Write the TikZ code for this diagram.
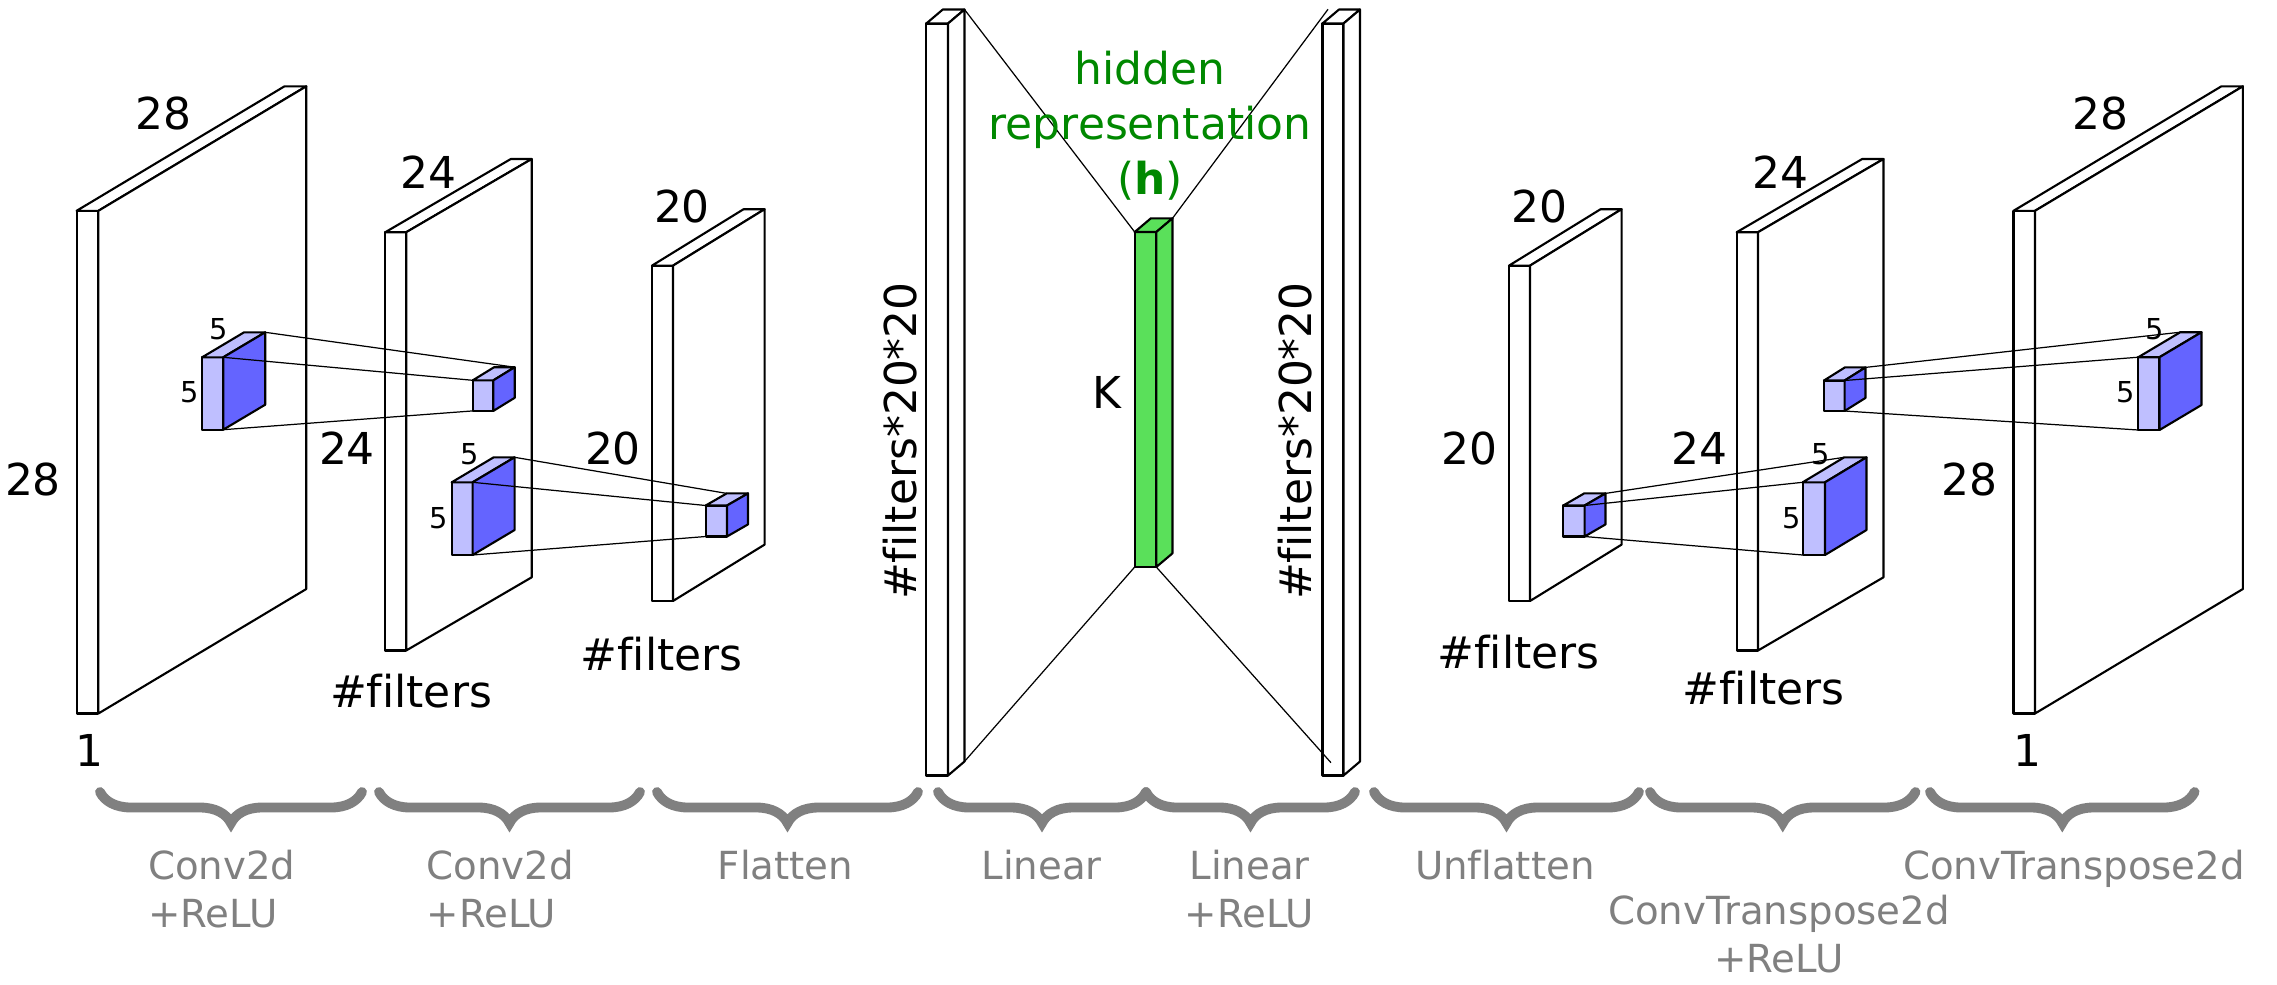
\documentclass[tikz,border=0pt]{standalone}
\usepackage{fontspec}
\setmainfont[Ligatures=NoCommon]{DejaVu Sans}
\usepackage{tikz}
\usetikzlibrary{calc}
\usetikzlibrary{decorations.pathreplacing}
\definecolor{facelight}{RGB}{191,191,255}
\definecolor{facedark}{RGB}{100,100,255}
\definecolor{hgreen}{RGB}{90,224,90}
\definecolor{htext}{RGB}{0,136,0}
\tikzset{edge/.style={line width=0.6pt, line join=round}}
\tikzset{link/.style={line width=0.35pt}}
\tikzset{dimlbl/.style={font=\fontsize{12.5}{15.6}\selectfont, inner sep=0pt}}
\tikzset{fivelbl/.style={font=\fontsize{8.2}{10}\selectfont, inner sep=0pt}}
\tikzset{oplbl/.style={font=\fontsize{11}{13.8}\selectfont, text=gray, inner sep=0pt, anchor=north}}
\tikzset{grouping/.style={decorate, decoration={brace, mirror, amplitude=0.31cm}, draw=gray, line width=2.8pt, line cap=round}}
\newcommand{\drawblock}[9]{%
  \coordinate (#1-ftl) at (#2,#4);
  \coordinate (#1-ftr) at (#3,#4);
  \coordinate (#1-fbl) at (#2,#5);
  \coordinate (#1-fbr) at (#3,#5);
  \coordinate (#1-btl) at ($(#1-ftl)+(#6,#7)$);
  \coordinate (#1-btr) at ($(#1-ftr)+(#6,#7)$);
  \coordinate (#1-bbr) at ($(#1-fbr)+(#6,#7)$);
  \filldraw[edge, fill=#8] (#1-ftl) rectangle (#1-fbr);
  \filldraw[edge, fill=#8] (#1-ftl) -- (#1-btl) -- (#1-btr) -- (#1-ftr) -- cycle;
  \filldraw[edge, fill=#9] (#1-ftr) -- (#1-btr) -- (#1-bbr) -- (#1-fbr) -- cycle;
}
\begin{document}
\begin{tikzpicture}[x=0.01cm, y=-0.01cm]
                    \useasboundingbox (0,0) rectangle (2277,984);

                    \drawblock{encA}{76.6}{98.4}{210.8}{713.5}{207.9}{-124.5}{white}{white}
                    \drawblock{encB}{385.3}{406.2}{232.2}{650.5}{125.5}{-73.2}{white}{white}
                    \drawblock{encC}{652}{673}{265.6}{601}{91.6}{-56.4}{white}{white}
                    \drawblock{flat}{926.3}{948}{23.5}{775.5}{16.5}{-14}{white}{white}
                    \drawblock{code}{1134.7}{1156.3}{232}{567}{16.2}{-13.7}{hgreen}{hgreen}
                    \drawblock{unflat}{1322.5}{1343.5}{23.5}{775.5}{16.5}{-14}{white}{white}
                    \drawblock{decA}{1509}{1530}{265.6}{601}{91.6}{-56.4}{white}{white}
                    \drawblock{decB}{1736.7}{1758}{232.2}{650.5}{125.5}{-73.2}{white}{white}
                    \drawblock{decC}{2013.5}{2035}{210.8}{713.5}{207.9}{-124.5}{white}{white}

                    \drawblock{kA}{202.1}{223.2}{357.3}{429.7}{42}{-25}{facelight}{facedark}
                    \drawblock{pA}{472.8}{493.4}{380.3}{410.9}{21.3}{-13.1}{facelight}{facedark}
                    \drawblock{kB}{451.7}{472.6}{482.3}{555}{42}{-25}{facelight}{facedark}
                    \drawblock{pB}{705.7}{727}{505.5}{536.5}{21}{-12.1}{facelight}{facedark}
                    \drawblock{pC}{1563.3}{1584.6}{505.5}{536.5}{20.9}{-12.1}{facelight}{facedark}
                    \drawblock{kC}{1802.7}{1825}{482.3}{555}{41.5}{-25}{facelight}{facedark}
                    \drawblock{pD}{1824}{1844.6}{380.5}{411}{20.9}{-13.1}{facelight}{facedark}
                    \drawblock{kD}{2138.3}{2159.5}{357.2}{430}{42}{-25}{facelight}{facedark}

                    \coordinate (hidtop) at (1328,9.3);
                    \coordinate (hidbot) at (1331,762.7);

                    \draw[link] (kA-btr) -- (pA-btr);
                    \draw[link] (kA-ftr) -- (pA-ftl);
                    \draw[link] (kA-fbr) -- (pA-fbl);
                    \draw[link] (kB-btr) -- (pB-btl);
                    \draw[link] (kB-ftr) -- (pB-ftl);
                    \draw[link] (kB-fbr) -- (pB-fbl);
                    \draw[link] (flat-btr) -- (code-ftl);
                    \draw[link] (flat-bbr) -- (code-fbl);
                    \draw[link] (code-btr) -- (hidtop);
                    \draw[link] (code-fbr) -- (hidbot);
                    \draw[link] (pC-btr) -- (kC-btl);
                    \draw[link] (pC-ftr) -- (kC-ftl);
                    \draw[link] (pC-fbr) -- (kC-fbl);
                    \draw[link] (pD-btr) -- (kD-btl);
                    \draw[link] (pD-ftr) -- (kD-ftl);
                    \draw[link] (pD-fbr) -- (kD-fbl);

                    \node[dimlbl] (encA-w) at (163.8,113.9) {28};
                    \node[dimlbl] (encA-h) at (33,479.9) {28};
                    \node[dimlbl] (encA-d) at (89.7,750.7) {1};
                    \node[dimlbl] (encB-w) at (428.5,172) {24};
                    \node[dimlbl] (encB-h) at (347,448.4) {24};
                    \node[dimlbl] (encB-d) at (411,690.7) {\#filters};
                    \node[dimlbl] (encC-w) at (682,206) {20};
                    \node[dimlbl] (encC-h) at (613,448.4) {20};
                    \node[dimlbl] (encC-d) at (661.6,654.3) {\#filters};
                    \node[dimlbl, rotate=90] (flat-n) at (900.6,441) {\#filters*20*20};
                    \node[dimlbl] (code-n) at (1106.6,392.9) {K};
                    \node[dimlbl, text=htext, align=center] (hid) at (1150,126) {hidden\\representation\\(\textbf{h})};
                    \node[dimlbl, rotate=90] (unflat-n) at (1295.6,441) {\#filters*20*20};
                    \node[dimlbl] (decA-w) at (1539.8,206) {20};
                    \node[dimlbl] (decA-h) at (1469.9,448.4) {20};
                    \node[dimlbl] (decA-d) at (1518.6,652) {\#filters};
                    \node[dimlbl] (decB-w) at (1780.3,172) {24};
                    \node[dimlbl] (decB-h) at (1699.2,448.4) {24};
                    \node[dimlbl] (decB-d) at (1763.5,688) {\#filters};
                    \node[dimlbl] (decC-w) at (2100.8,113.9) {28};
                    \node[dimlbl] (decC-h) at (1969.4,479.9) {28};
                    \node[dimlbl] (decC-d) at (2027.5,750.7) {1};

                    \node[fivelbl] (kA-w) at (219,329.6) {5};
                    \node[fivelbl] (kA-h) at (190,392.6) {5};
                    \node[fivelbl] (kB-w) at (469.2,454.6) {5};
                    \node[fivelbl] (kB-h) at (439.1,518.6) {5};
                    \node[fivelbl] (kC-w) at (1820.6,454.6) {5};
                    \node[fivelbl] (kC-h) at (1791.5,518.6) {5};
                    \node[fivelbl] (kD-w) at (2155,329.6) {5};
                    \node[fivelbl] (kD-h) at (2126,392.6) {5};

                    \draw[grouping] (100,792) -- (362,792);
                    \draw[grouping] (379,792) -- (640,792);
                    \draw[grouping] (657,792) -- (918,792);
                    \draw[grouping] (938,792) -- (1146,792);
                    \draw[grouping] (1146,792) -- (1355,792);
                    \draw[grouping] (1374,792) -- (1639,792);
                    \draw[grouping] (1650,792) -- (1915.5,792);
                    \draw[grouping] (1930,792) -- (2194.6,792);

                    \node[oplbl, anchor=north west, align=left] (op1) at (147.3,848.9) {Conv2d\\+ReLU};
                    \node[oplbl, anchor=north west, align=left] (op2) at (426,848.9) {Conv2d\\+ReLU};
                    \node[oplbl] (op3) at (785.5,848.9) {Flatten};
                    \node[oplbl] (op4) at (1041.6,848.9) {Linear};
                    \node[oplbl, align=center] (op5) at (1249.6,848.9) {Linear\\+ReLU};
                    \node[oplbl] (op6) at (1504.8,848.9) {Unflatten};
                    \node[oplbl, align=center] (op7) at (1779,894) {ConvTranspose2d\\+ReLU};
                    \node[oplbl] (op8) at (2074,848.9) {ConvTranspose2d};
                \end{tikzpicture}
\end{document}
